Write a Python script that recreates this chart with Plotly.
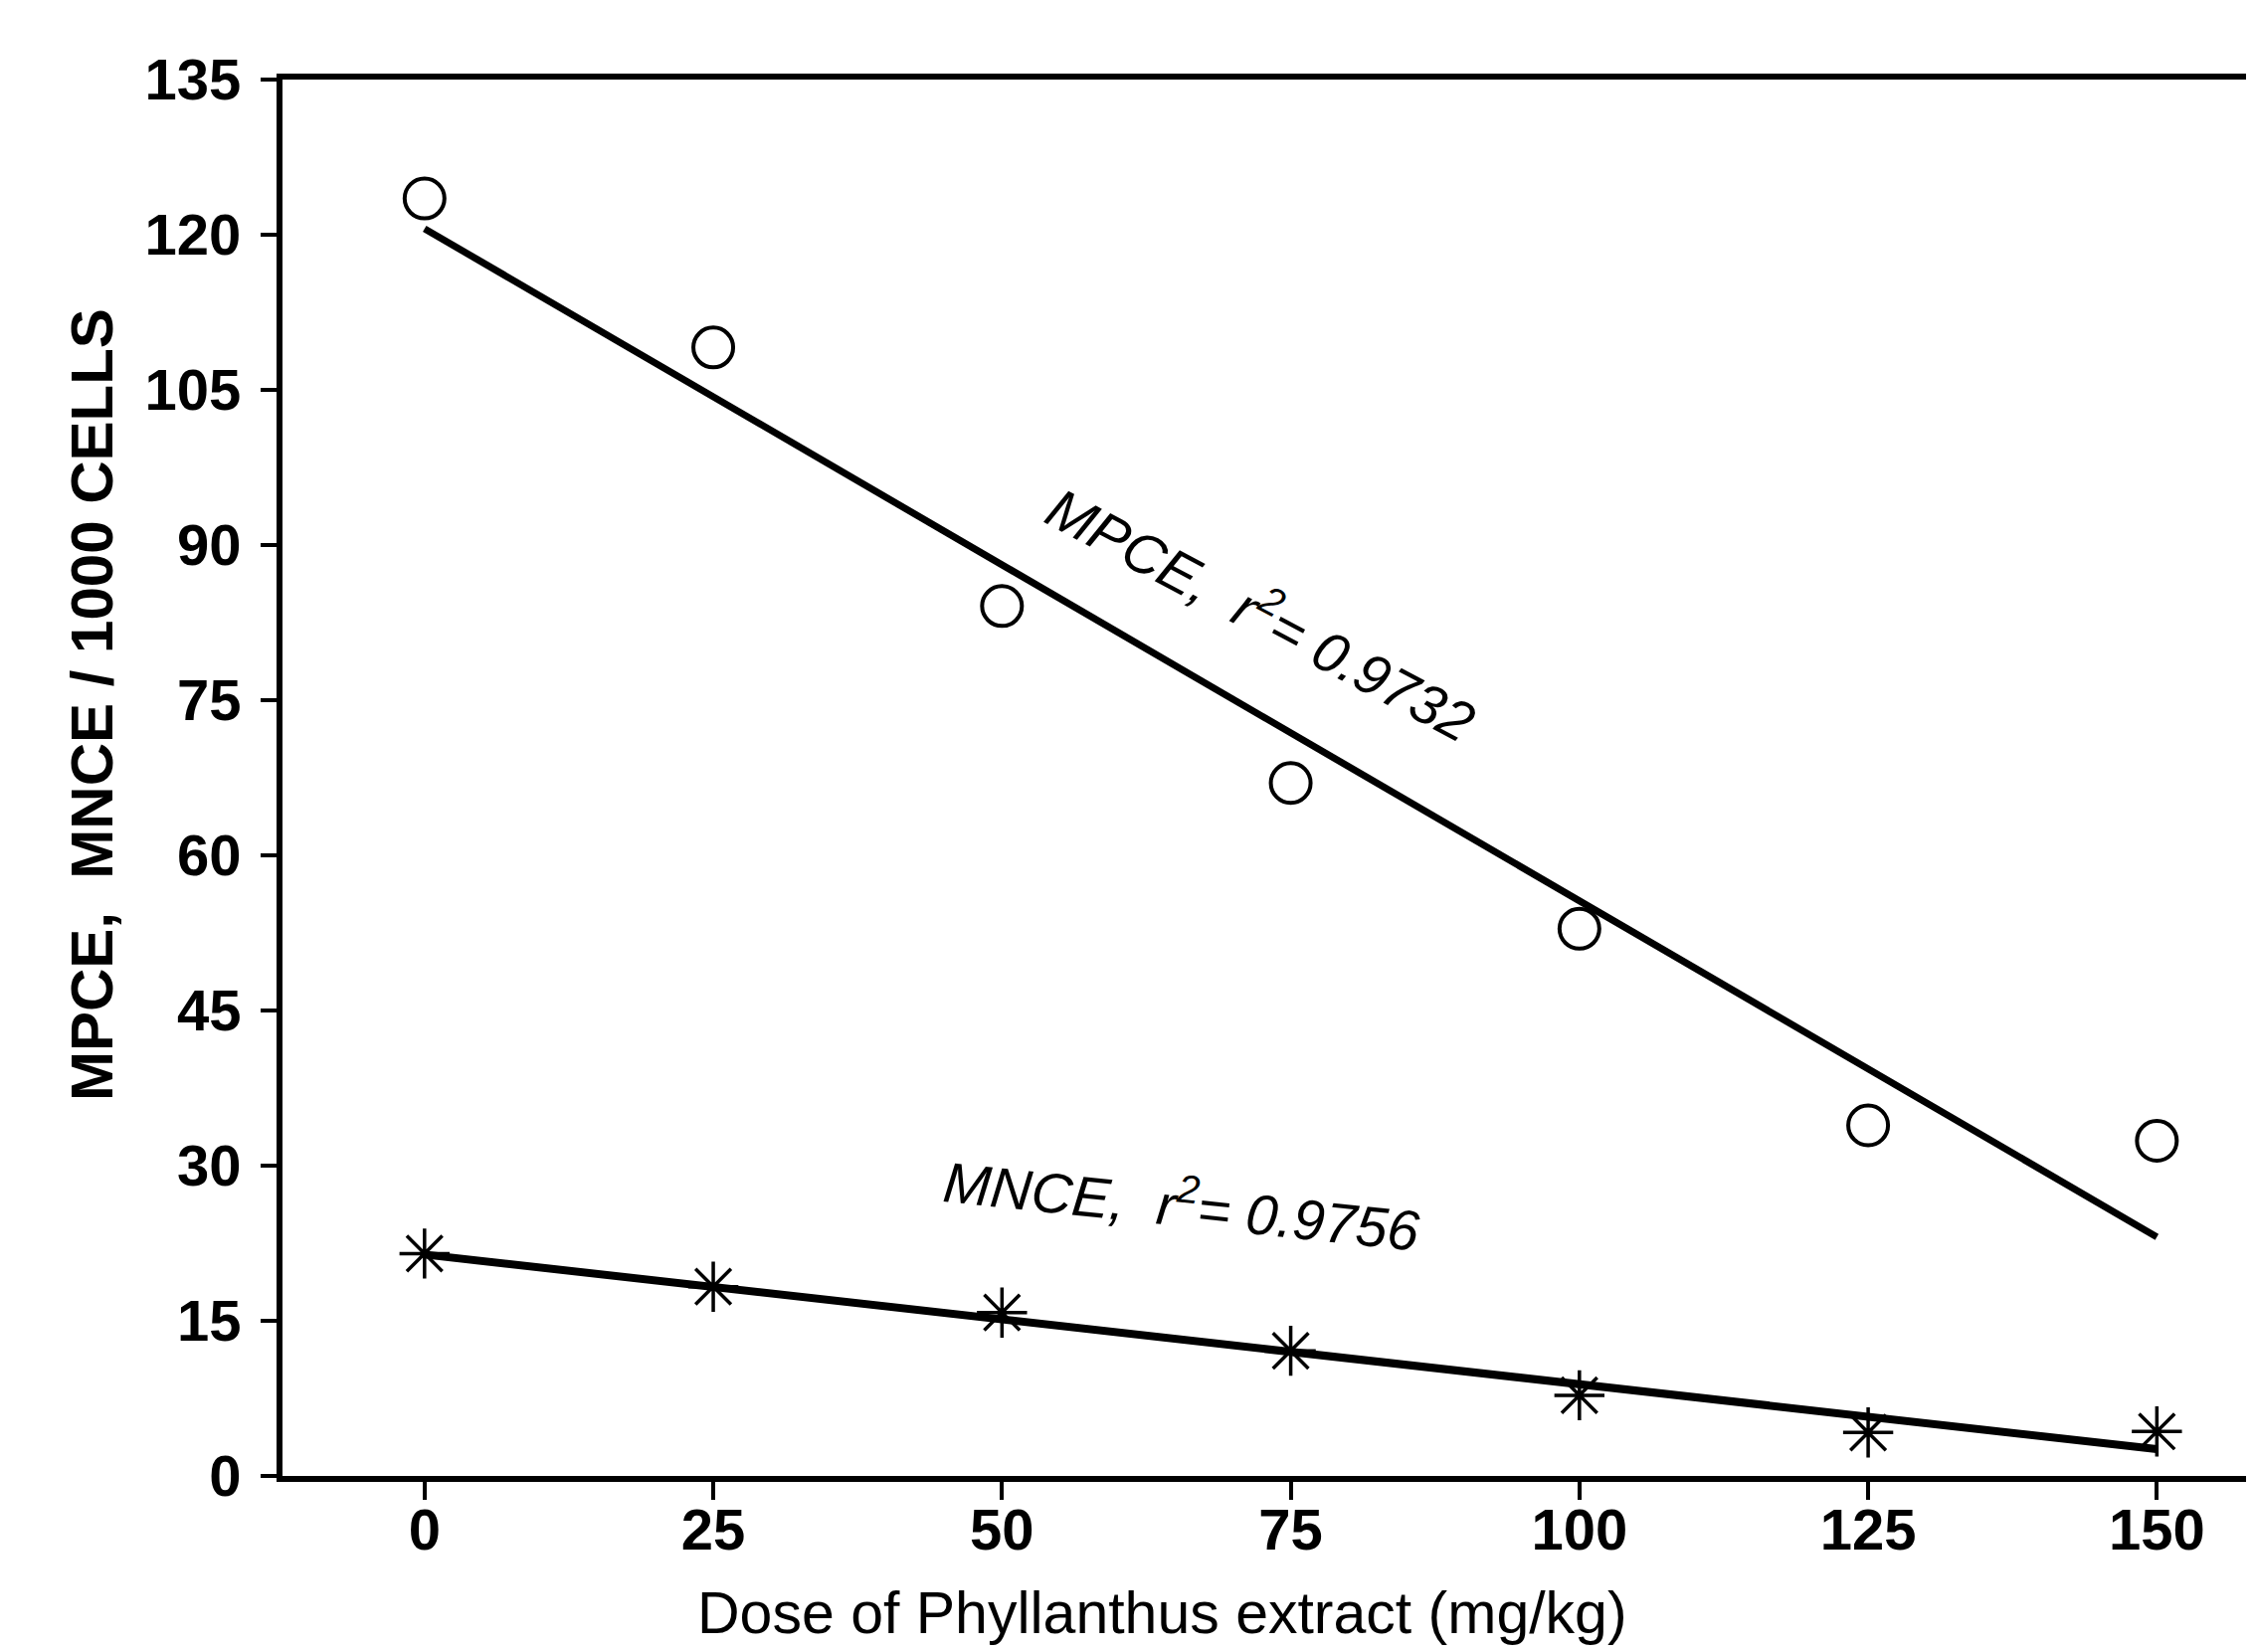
import numpy as np
import plotly.graph_objects as go

# ---- data ----
dose = [0, 25, 50, 75, 100, 125, 150]
mpce = [123.5, 109.1, 84.1, 67.0, 52.9, 33.9, 32.4]
mnce = [21.5, 18.3, 15.8, 12.1, 7.8, 4.2, 4.3]
x_ticks = [0, 25, 50, 75, 100, 125, 150]
y_ticks = [0, 15, 30, 45, 60, 75, 90, 105, 120, 135]
mpce_label = "MPCE,  r<sup>2</sup>= 0.9732"
mnce_label = "MNCE,  r<sup>2</sup>= 0.9756"
x_title = "Dose of Phyllanthus extract (mg/kg)"
y_title = "MPCE,  MNCE / 1000 CELLS"

FONT = "Liberation Sans, Arial, sans-serif"

W, H = 2266, 1661
ML, MR, MT, MB = 276, 0, 72, 185
PW, PH = W - ML - MR, H - MT - MB


def px_to_paper(px, py):
    return (px - ML) / PW, (H - MB - py) / PH


# least-squares regression lines through the data
fit_x = np.array([dose[0], dose[-1]], dtype=float)
m1, b1 = np.polyfit(dose, mpce, 1)
m2, b2 = np.polyfit(dose, mnce, 1)

fig = go.Figure()
fig.add_trace(go.Scatter(x=fit_x, y=m1 * fit_x + b1, mode="lines",
                         line=dict(color="black", width=7), showlegend=False))
fig.add_trace(go.Scatter(x=fit_x, y=m2 * fit_x + b2, mode="lines",
                         line=dict(color="black", width=8), showlegend=False))
fig.add_trace(go.Scatter(x=dose, y=mpce, mode="markers", showlegend=False,
                         marker=dict(symbol="circle-open", size=40, color="black",
                                     line=dict(color="black", width=4))))
fig.add_trace(go.Scatter(x=dose, y=mnce, mode="markers", showlegend=False,
                         marker=dict(symbol="asterisk-open", size=42, color="black",
                                     line=dict(color="black", width=3.5))))

fig.add_annotation(x=72.6, y=83.6, xref="x", yref="y", text=mpce_label,
                   showarrow=False, textangle=28,
                   font=dict(family=FONT, size=57, color="black", style="italic"))
fig.add_annotation(x=65.6, y=26.4, xref="x", yref="y", text=mnce_label,
                   showarrow=False, textangle=6,
                   font=dict(family=FONT, size=57, color="black", style="italic"))

# axis titles placed as annotations to match the reference offsets
xt_x, xt_y = px_to_paper(1160, 1614)
yt_x, yt_y = px_to_paper(84, 701)
fig.add_annotation(x=xt_x, y=xt_y, xref="paper", yref="paper",
                   text=x_title, showarrow=False, xanchor="center", yanchor="middle",
                   font=dict(family=FONT, size=59, color="black"))
fig.add_annotation(x=yt_x, y=yt_y, xref="paper", yref="paper",
                   text=y_title, showarrow=False, textangle=-90,
                   xanchor="center", yanchor="middle",
                   font=dict(family=FONT, size=60, weight="bold", color="black"))

fig.update_layout(
    width=W, height=H,
    paper_bgcolor="white", plot_bgcolor="white",
    margin=dict(l=ML, r=MR, t=MT, b=MB),
    showlegend=False,
    font=dict(family=FONT, color="black"),
    xaxis=dict(range=[-12.3, 159.1], tickvals=x_ticks, ticktext=[str(v) for v in x_ticks],
               showgrid=False, zeroline=False, showline=True, linecolor="black",
               linewidth=6, mirror=True, ticks="outside", ticklen=18, tickwidth=4,
               tickcolor="black", ticklabelstandoff=-20, automargin=False,
               tickfont=dict(family=FONT, size=58, weight="bold", color="black")),
    yaxis=dict(range=[0, 135], tickvals=y_ticks, ticktext=[str(v) for v in y_ticks],
               showgrid=False, zeroline=False, showline=True, linecolor="black",
               linewidth=6, mirror=False, ticks="outside", ticklen=16, tickwidth=4,
               tickcolor="black", ticklabelstandoff=8, automargin=False,
               tickfont=dict(family=FONT, size=58, weight="bold", color="black")),
)

fig.write_html("out.html")
